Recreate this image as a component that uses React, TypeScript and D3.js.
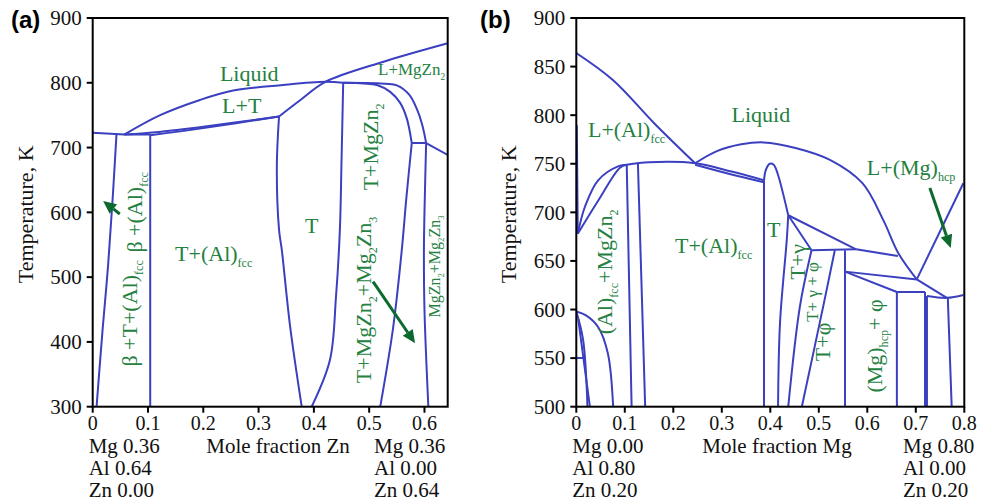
import React from 'react';
import * as d3 from 'd3';

type Pt = [number, number];

// ---------- panel (a): Mg0.36Al0.64 -> Mg0.36Zn0.64 ----------
const aTicksX = [0, 0.1, 0.2, 0.3, 0.4, 0.5, 0.6];
const aTicksY = [300, 400, 500, 600, 700, 800, 900];
const aLeftComp = ['Mg 0.36', 'Al 0.64', 'Zn 0.00'];
const aRightComp = ['Mg 0.36', 'Al 0.00', 'Zn 0.64'];

const aEutecticTie: Pt[] = [[0, 723], [0.057, 720]];
const aLiquid: Pt[] = [[0.057, 720], [0.122, 750], [0.194, 773.5], [0.254, 788], [0.344, 796.6], [0.42, 801.5], [0.453, 800]];
const aLiquidOuter: Pt[] = [[0.453, 800], [0.52, 799], [0.55, 796], [0.572, 782], [0.586, 760], [0.596, 735], [0.603, 707]];
const aMgZn2Inner: Pt[] = [[0.453, 800], [0.49, 799], [0.514, 796.6], [0.538, 786], [0.556, 769], [0.568, 745], [0.577, 707]];
const aTUpper: Pt[] = [[0.337, 748], [0.375, 773], [0.42, 801], [0.52, 831], [0.642, 861]];
const aTLeft: Pt[] = [[0.337, 748], [0.333, 670], [0.337, 573], [0.342, 542], [0.357, 424], [0.378, 300]];
const aTRight: Pt[] = [[0.453, 800], [0.45, 680], [0.447, 573], [0.44, 470], [0.429, 372], [0.396, 300]];
const aSolidusA: Pt[] = [[0.057, 720], [0.12, 724], [0.2, 732], [0.337, 748]];
const aSolidusB: Pt[] = [[0.104, 719], [0.2, 730], [0.337, 748]];
const aTieAl: Pt[] = [[0.057, 720], [0.104, 720]];
const aBetaLine: Pt[] = [[0.043, 720], [0.036, 620], [0.028, 520], [0.018, 420], [0.007, 300]];
const aAlLine: Pt[] = [[0.104, 720], [0.104, 300]];
const aTie707: Pt[] = [[0.577, 707], [0.603, 707]];
const aRightEdge: Pt[] = [[0.603, 707], [0.642, 688.6]];
const aMg2Zn3Left: Pt[] = [[0.577, 707], [0.567, 620], [0.559, 542], [0.543, 420], [0.52, 300]];
const aMg2Zn3Right: Pt[] = [[0.603, 707], [0.6, 600], [0.599, 542], [0.6, 450], [0.607, 300]];

const aCurves = [aEutecticTie, aLiquid, aLiquidOuter, aMgZn2Inner, aTUpper, aTLeft, aTRight, aSolidusA, aSolidusB,
  aTieAl, aBetaLine, aAlLine, aTie707, aRightEdge, aMg2Zn3Left, aMg2Zn3Right];

const aLabels = [
  { t: 'Liquid', x: 0.23, y: 802.8, size: 22 },
  { t: 'L+T', x: 0.234, y: 753.4, size: 22 },
  { t: 'L+MgZn_{2}', x: 0.516, y: 812, size: 17 },
  { t: 'T+MgZn_{2}', x: 0.516, y: 701, size: 22, rot: true },
  { t: 'T', x: 0.384, y: 568, size: 22 },
  { t: 'T+(Al)_{fcc}', x: 0.149, y: 525, size: 22 },
  { t: 'β +(Al)_{fcc}', x: 0.0893, y: 600, size: 22, rot: true },
  { t: 'β +T+(Al)_{fcc}', x: 0.08, y: 444, size: 22, rot: true },
  { t: 'T+MgZn_{2}+Mg_{2}Zn_{3}', x: 0.503, y: 464.8, size: 22, rot: true },
  { t: 'MgZn_{2}+Mg_{2}Zn_{3}', x: 0.628, y: 516.5, size: 16, rot: true },
];
const aArrows: [Pt, Pt][] = [[[0.049, 597.5], [0.0188, 617.6]], [[0.507, 493], [0.583, 398]]];

// ---------- panel (b): Al0.8Zn0.2 -> Mg0.8Zn0.2 ----------
const bTicksX = [0, 0.1, 0.2, 0.3, 0.4, 0.5, 0.6, 0.7, 0.8];
const bTicksY = [500, 550, 600, 650, 700, 750, 800, 850, 900];
const bLeftComp = ['Mg 0.00', 'Al 0.80', 'Zn 0.20'];
const bRightComp = ['Mg 0.80', 'Al 0.00', 'Zn 0.20'];

const bAlLiquidus: Pt[] = [[0, 864], [0.076, 836], [0.16, 792], [0.245, 750.5]];
const bDome: Pt[] = [[0.245, 750.5], [0.29, 763], [0.34, 770], [0.386, 772], [0.454, 766], [0.523, 754], [0.59, 730], [0.633, 692], [0.664, 658], [0.702, 631]];
const bMgLiquidus: Pt[] = [[0.702, 631], [0.798, 730]];
const bAxisLine: Pt[] = [[0.001, 790], [0.003, 678]];
const bAlSolvusUpper: Pt[] = [[0.003, 678], [0.018, 706], [0.045, 733], [0.087, 747.5], [0.104, 749]];
const bAlSolvusLower: Pt[] = [[0.003, 678], [0.045, 712], [0.09, 746], [0.104, 749]];
const bFlatUpper: Pt[] = [[0.104, 749], [0.15, 751.5], [0.245, 750.5], [0.32, 742], [0.387, 733]];
const bFlatLower: Pt[] = [[0.245, 749], [0.32, 739], [0.387, 731]];
const bMgZn2Left: Pt[] = [[0.104, 749], [0.114, 500]];
const bMgZn2Right: Pt[] = [[0.127, 751], [0.142, 500]];
const bLowDome: Pt[] = [[0, 598], [0.02, 594], [0.045, 582], [0.065, 555], [0.076, 500]];
const bLowInner1: Pt[] = [[0, 598], [0.014, 569], [0.023, 500]];
const bLowInner2: Pt[] = [[0.004, 590], [0.028, 500]];
const bLowTie: Pt[] = [[0, 550], [0.018, 550]];
const bTLeft: Pt[] = [[0.387, 500], [0.387, 733]];
const bTBump: Pt[] = [[0.387, 733], [0.391, 744], [0.399, 750], [0.407, 749], [0.415, 740], [0.437, 697]];
const bTRight: Pt[] = [[0.437, 697], [0.434, 672], [0.42, 586], [0.416, 500]];
const bGammaSteep: Pt[] = [[0.437, 697], [0.485, 661]];
const bGammaShallow: Pt[] = [[0.437, 697], [0.577, 662]];
const bGammaBase: Pt[] = [[0.485, 661], [0.577, 662]];
const bPhiTop: Pt[] = [[0.577, 662], [0.663, 655]];
const bTgLine: Pt[] = [[0.485, 661], [0.461, 603], [0.437, 500]];
const bTgpLine: Pt[] = [[0.533, 661], [0.509, 603], [0.465, 500]];
const bPhiVert: Pt[] = [[0.554, 661], [0.554, 500]];
const bMgPhiUpper: Pt[] = [[0.554, 639], [0.702, 631]];
const bMgPhiLower: Pt[] = [[0.554, 639], [0.661, 618]];
const bTie1: Pt[] = [[0.661, 618], [0.719, 618]];
const bTie2: Pt[] = [[0.702, 631], [0.764, 612]];
const bTie3: Pt[] = [[0.723, 614], [0.764, 612], [0.798, 615]];
const bVert1: Pt[] = [[0.661, 618], [0.661, 500]];
const bVert2: Pt[] = [[0.719, 618], [0.719, 500]];
const bVert3: Pt[] = [[0.723, 614], [0.723, 500]];
const bVert4: Pt[] = [[0.766, 612], [0.774, 500]];

const bCurves = [bAlLiquidus, bDome, bMgLiquidus, bAxisLine, bAlSolvusUpper, bAlSolvusLower, bFlatUpper, bFlatLower,
  bMgZn2Left, bMgZn2Right, bLowDome, bLowInner1, bLowInner2, bLowTie, bTLeft, bTBump, bTRight, bGammaSteep,
  bGammaShallow, bGammaBase, bPhiTop, bTgLine, bTgpLine, bPhiVert, bMgPhiUpper, bMgPhiLower, bTie1, bTie2, bTie3,
  bVert1, bVert2, bVert3, bVert4];

const bLabels = [
  { t: 'L+(Al)_{fcc}', x: 0.024, y: 777.6, size: 22 },
  { t: 'Liquid', x: 0.32, y: 793, size: 22 },
  { t: 'L+(Mg)_{hcp}', x: 0.599, y: 738.5, size: 22 },
  { t: 'T', x: 0.393, y: 674.7, size: 22 },
  { t: 'T+(Al)_{fcc}', x: 0.2035, y: 658, size: 22 },
  { t: '(Al)_{fcc}+MgZn_{2}', x: 0.074, y: 638.7, size: 22, rot: true },
  { t: 'T+γ', x: 0.471, y: 649, size: 22, rot: true },
  { t: 'T+ γ + φ', x: 0.498, y: 618, size: 17, rot: true },
  { t: 'T+φ', x: 0.523, y: 566.7, size: 22, rot: true },
  { t: '(Mg)_{hcp}+ φ', x: 0.63, y: 562.5, size: 22, rot: true },
];
const bArrows: [Pt, Pt][] = [[[0.729, 725], [0.772, 663.4]]];

const BLUE = '#3b40c0';
const GREEN = '#24813f';
const ARROW = '#0d6a2e';
const SERIF = '"Liberation Serif", "Times New Roman", serif';

function Rich({ s, size }: { s: string; size: number }) {
  const parts = s.split(/(_\{[^}]*\})/).filter(p => p.length);
  let shift = 0;
  return (
    <>
      {parts.map((p, i) => {
        if (p.startsWith('_{')) {
          const d = size * 0.28;
          shift = d;
          return <tspan key={i} fontSize={size * 0.55} dy={d}>{p.slice(2, -1)}</tspan>;
        }
        const dy = shift ? -shift : undefined;
        shift = 0;
        return <tspan key={i} dy={dy}>{p}</tspan>;
      })}
    </>
  );
}

const Panel = ({ id, tag, tagX, left, right, top, bottom, xMax, yMin, ticksX, ticksY, leftComp, rightComp, rightCompX,
  xTitle, xTitleX, curves, labels, arrows }: any) => {
  const x = d3.scaleLinear().domain([0, xMax]).range([left, right]);
  const y = d3.scaleLinear().domain([yMin, 900]).range([bottom, top]);
  const line = d3.line<Pt>().x(d => x(d[0])).y(d => y(d[1])).curve(d3.curveCatmullRom.alpha(0.5));

  const arrowShape = (a: Pt, b: Pt) => {
    const x1 = x(a[0]), y1 = y(a[1]), x2 = x(b[0]), y2 = y(b[1]);
    const ang = Math.atan2(y2 - y1, x2 - x1);
    const hl = 13, hw = 6;
    const bx = x2 - hl * Math.cos(ang), by = y2 - hl * Math.sin(ang);
    const px = -Math.sin(ang) * hw, py = Math.cos(ang) * hw;
    return { x1, y1, bx, by, head: `${x2},${y2} ${bx + px},${by + py} ${bx - px},${by - py}` };
  };

  return (
    <g fontFamily={SERIF}>
      <defs>
        <clipPath id={`clip-${id}`}>
          <rect x={left} y={top} width={right - left} height={bottom - top} />
        </clipPath>
      </defs>
      <text x={tagX} y={28} fontFamily='"Liberation Sans", Arial, sans-serif' fontWeight="bold" fontSize={24}>{tag}</text>

      <g clipPath={`url(#clip-${id})`}>
        {curves.map((c: Pt[], i: number) => (
          <path key={i} d={line(c) || ''} fill="none" stroke={BLUE} strokeWidth={2} />
        ))}
      </g>

      <rect x={left} y={top} width={right - left} height={bottom - top} fill="none" stroke="#000" strokeWidth={2} />

      {ticksY.map((t: number) => (
        <g key={t}>
          <line x1={left - 6} x2={left} y1={y(t)} y2={y(t)} stroke="#000" strokeWidth={2} />
          <text x={left - 11} y={y(t)} dy="0.35em" textAnchor="end" fontSize={21} fill="#111">{t}</text>
        </g>
      ))}
      {ticksX.map((t: number) => (
        <g key={t}>
          <line x1={x(t)} x2={x(t)} y1={bottom} y2={bottom + 6} stroke="#000" strokeWidth={2} />
          <text x={x(t)} y={430} textAnchor="middle" fontSize={20} fill="#111">{t === 0 ? '0' : t.toFixed(1)}</text>
        </g>
      ))}

      <text transform={`translate(${left - 60},${(top + bottom) / 2 + 2}) rotate(-90)`} textAnchor="middle" fontSize={22} fill="#111">Temperature, K</text>
      <text x={xTitleX} y={453} textAnchor="middle" fontSize={21} fill="#111">{xTitle}</text>
      {leftComp.map((s: string, i: number) => (
        <text key={'l' + i} x={left - 4} y={453 + i * 22} fontSize={21} fill="#111">{s}</text>
      ))}
      {rightComp.map((s: string, i: number) => (
        <text key={'r' + i} x={rightCompX} y={453 + i * 22} fontSize={21} fill="#111">{s}</text>
      ))}

      {labels.map((l: any, i: number) => (
        l.rot ? (
          <text key={i} transform={`translate(${x(l.x)},${y(l.y)}) rotate(-90)`} textAnchor="middle" fontSize={l.size} fill={GREEN}>
            <Rich s={l.t} size={l.size} />
          </text>
        ) : (
          <text key={i} x={x(l.x)} y={y(l.y)} fontSize={l.size} fill={GREEN}>
            <Rich s={l.t} size={l.size} />
          </text>
        )
      ))}

      {arrows.map((a: [Pt, Pt], i: number) => {
        const s = arrowShape(a[0], a[1]);
        return (
          <g key={i}>
            <line x1={s.x1} y1={s.y1} x2={s.bx} y2={s.by} stroke={ARROW} strokeWidth={3} />
            <polygon points={s.head} fill={ARROW} />
          </g>
        );
      })}
    </g>
  );
};

export default function App() {
  return (
    <svg width={989} height={503} style={{ position: 'absolute', left: 0, top: 0, background: '#fff' }}>
      <rect width={989} height={503} fill="#fff" />
      <Panel id="a" tag="(a)" tagX={11} left={92.7} right={447.7} top={18} bottom={406.7} xMax={0.642} yMin={300}
        ticksX={aTicksX} ticksY={aTicksY} leftComp={aLeftComp} rightComp={aRightComp} rightCompX={374}
        xTitle="Mole fraction Zn" xTitleX={278} curves={aCurves} labels={aLabels} arrows={aArrows} />
      <Panel id="b" tag="(b)" tagX={480} left={576.3} right={964.3} top={18} bottom={406.7} xMax={0.8} yMin={500}
        ticksX={bTicksX} ticksY={bTicksY} leftComp={bLeftComp} rightComp={bRightComp} rightCompX={903}
        xTitle="Mole fraction Mg" xTitleX={777} curves={bCurves} labels={bLabels} arrows={bArrows} />
    </svg>
  );
}
